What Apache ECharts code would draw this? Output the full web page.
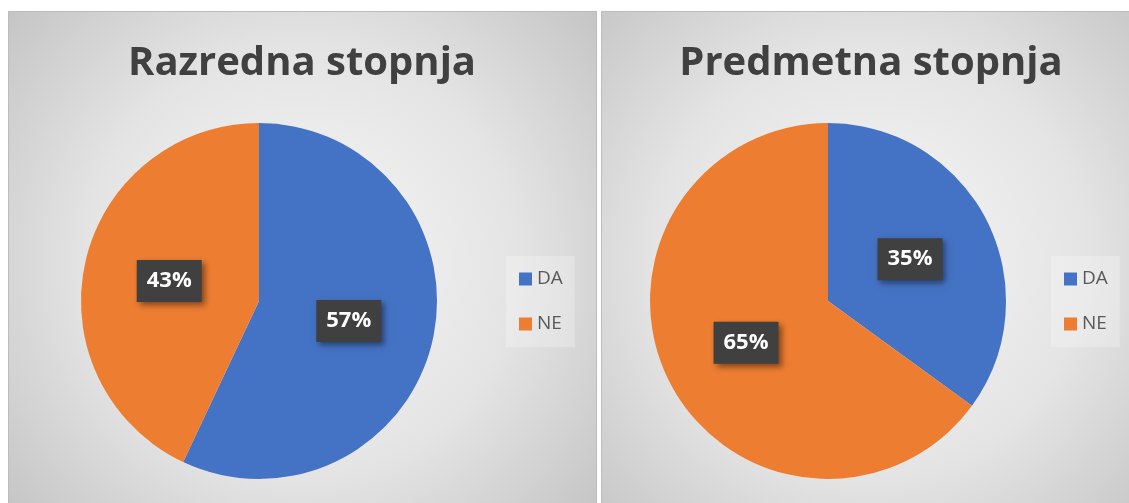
<!DOCTYPE html>
<html>
<head>
<meta charset="utf-8">
<script src="https://cdn.jsdelivr.net/npm/echarts@6/dist/echarts.min.js"></script>
<style>
html,body{margin:0;padding:0;background:#fff;}
#c{width:1129px;height:503px;}
</style>
</head>
<body>
<div id="c"></div>
<script>
const categories = ['DA', 'NE'];
const titles = ['Razredna stopnja', 'Predmetna stopnja'];
const razrednaValues = [57, 43];
const predmetnaValues = [35, 65];
const sliceColors = ['#4472C4', '#ED7D31'];

const FONT = '"Open Sans"';
const chart = echarts.init(document.getElementById('c'), null, {renderer: 'canvas'});

function panelFill() {
  return {
    type: 'radial', x: 0.5, y: 0.5, r: 0.78,
    colorStops: [
      {offset: 0, color: '#f7f7f7'},
      {offset: 0.55, color: '#e4e4e4'},
      {offset: 1, color: '#c4c4c4'}
    ]
  };
}

function makeData(values) {
  return categories.map((n, i) => ({name: n, value: values[i], itemStyle: {color: sliceColors[i]}}));
}

const labelStyle = {
  show: true,
  position: 'inside',
  formatter: '{c}%',
  color: '#ffffff',
  fontFamily: FONT,
  fontWeight: 'bold',
  fontSize: 22,
  lineHeight: 22,
  backgroundColor: '#404040',
  padding: [10, 10, 10, 10],
  shadowColor: 'rgba(0,0,0,0.45)',
  shadowBlur: 6,
  shadowOffsetX: 3,
  shadowOffsetY: 3
};

function pie(values, cx) {
  return {
    type: 'pie',
    center: [cx, 301],
    radius: [0, 178],
    startAngle: 90,
    clockwise: true,
    data: makeData(values),
    label: labelStyle,
    labelLine: {show: false},
    emphasis: {disabled: true},
    itemStyle: {borderWidth: 0}
  };
}

function legend(left) {
  return {
    orient: 'vertical',
    left: left,
    top: 256,
    data: categories,
    icon: 'rect',
    itemWidth: 13,
    itemHeight: 13,
    itemGap: 25,
    padding: [13, 12, 13, 13],
    backgroundColor: 'rgba(255,255,255,0.25)',
    textStyle: {color: '#595959', fontFamily: FONT, fontSize: 19, lineHeight: 20},
    selectedMode: false
  };
}

chart.setOption({
  animation: false,
  graphic: [
    {type: 'rect', z: -10, shape: {x: 8.5, y: 11.5, width: 588, height: 500},
     style: {fill: panelFill(), stroke: '#bcbcbc', lineWidth: 1}},
    {type: 'rect', z: -10, shape: {x: 601.5, y: 11.5, width: 540, height: 500},
     style: {fill: panelFill(), stroke: '#bcbcbc', lineWidth: 1}}
  ],
  title: [
    {text: titles[0], left: 302, top: 40, padding: 0, textAlign: 'center',
     textStyle: {color: '#404040', fontFamily: FONT, fontWeight: 'bold', fontSize: 40, lineHeight: 48}},
    {text: titles[1], left: 871, top: 40, padding: 0, textAlign: 'center',
     textStyle: {color: '#404040', fontFamily: FONT, fontWeight: 'bold', fontSize: 40, lineHeight: 48}}
  ],
  legend: [legend(506), legend(1051)],
  series: [pie(razrednaValues, 259), pie(predmetnaValues, 828)]
});
</script>
</body>
</html>
